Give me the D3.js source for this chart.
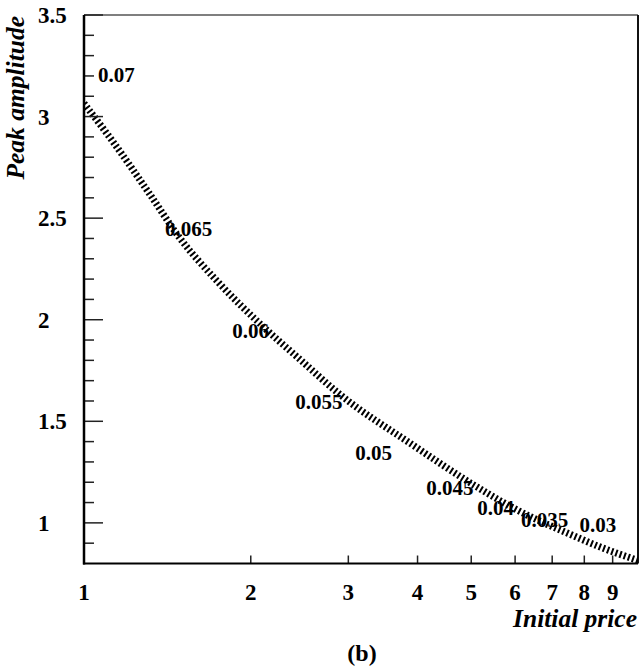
<!DOCTYPE html>
<html>
<head>
<meta charset="utf-8">
<script src="https://cdn.jsdelivr.net/npm/d3@7"></script>
<style>
  html, body { margin: 0; padding: 0; background: #fff; }
  svg { display: block; }
  text { font-family: "Liberation Serif", "DejaVu Serif", serif; font-weight: bold; fill: #000; }
</style>
</head>
<body>
<svg id="chart" width="639" height="671"></svg>
<script>
// Peak amplitude as a function of the initial price
const initialPrice = [1.0, 1.128, 1.316, 1.491, 1.739, 2.105, 2.455, 2.90, 3.879, 5.127, 6.053, 7.452, 8.549, 10.0];
const peakAmplitude = [3.065, 2.876, 2.616, 2.40, 2.19, 1.966, 1.804, 1.631, 1.392, 1.176, 1.063, 0.95, 0.881, 0.815];

// Parameter labels placed beside the curve (price, amplitude of the baseline start)
const paramText = ["0.07", "0.065", "0.06", "0.055", "0.05", "0.045", "0.04", "0.035", "0.03"];
const paramPrice = [1.060, 1.400, 1.851, 2.405, 3.088, 4.149, 5.126, 6.15, 7.843];
const paramAmp = [3.172, 2.414, 1.912, 1.5625, 1.3115, 1.139, 1.041, 0.982, 0.957];

// Axis ticks
const xTickValues = [1, 2, 3, 4, 5, 6, 7, 8, 9];
const yMajorTicks = [1, 1.5, 2, 2.5, 3, 3.5];
const yMinorTicks = [0.9, 1.1, 1.2, 1.3, 1.4, 1.6, 1.7, 1.8, 1.9, 2.1, 2.2, 2.3, 2.4, 2.6, 2.7, 2.8, 2.9, 3.1, 3.2, 3.3, 3.4];

const xTitle = "Initial price";
const yTitle = "Peak amplitude";
const caption = "(b)";

const plotLeft = 84, plotTop = 15, plotRight = 638, plotBottom = 563.5;

const svg = d3.select("#chart");

const x = d3.scaleLog().domain([1, 10]).range([plotLeft, plotRight]);
const y = d3.scaleLinear().domain([0.8, 3.5]).range([plotBottom, plotTop]);

const defs = svg.append("defs");
defs.append("clipPath").attr("id", "plotClip")
  .append("rect").attr("x", plotLeft).attr("y", plotTop)
  .attr("width", plotRight - plotLeft).attr("height", plotBottom - plotTop);

// Frame: top and right edges
svg.append("line").attr("x1", plotLeft).attr("x2", plotRight).attr("y1", plotTop).attr("y2", plotTop)
  .attr("stroke", "#555").attr("stroke-width", 1.6);
svg.append("line").attr("x1", plotRight).attr("x2", plotRight).attr("y1", plotTop).attr("y2", plotBottom)
  .attr("stroke", "#111").attr("stroke-width", 2);

// Curve: wide dashed stroke gives a hatched band
const pts = initialPrice.map((p, i) => [p, peakAmplitude[i]]);
const line = d3.line().x(d => x(d[0])).y(d => y(d[1])).curve(d3.curveMonotoneX);
svg.append("path")
  .attr("clip-path", "url(#plotClip)")
  .attr("d", line(pts))
  .attr("fill", "none")
  .attr("stroke", "#000")
  .attr("stroke-width", 7)
  .attr("stroke-dasharray", "2 2.4");

// Y axis ticks
const gy = svg.append("g");
gy.selectAll("line.major").data(yMajorTicks).join("line")
  .attr("class", "major")
  .attr("x1", plotLeft).attr("x2", plotLeft + 19)
  .attr("y1", d => y(d)).attr("y2", d => y(d))
  .attr("stroke", "#222").attr("stroke-width", 1.5);
gy.selectAll("line.minor").data(yMinorTicks).join("line")
  .attr("class", "minor")
  .attr("x1", plotLeft).attr("x2", plotLeft + 10)
  .attr("y1", d => y(d)).attr("y2", d => y(d))
  .attr("stroke", "#222").attr("stroke-width", 1.5);
gy.selectAll("text").data(yMajorTicks).join("text")
  .attr("x", 38).attr("y", d => y(d))
  .attr("dy", "0.35em")
  .attr("font-size", 23)
  .text(d => d3.format("")(d));

// X axis ticks
const gx = svg.append("g");
gx.selectAll("line").data(xTickValues.slice(1)).join("line")
  .attr("x1", d => x(d)).attr("x2", d => x(d))
  .attr("y1", plotBottom).attr("y2", plotBottom - 8)
  .attr("stroke", "#222").attr("stroke-width", 1.5);
gx.selectAll("text").data(xTickValues).join("text")
  .attr("x", d => x(d)).attr("y", 600)
  .attr("text-anchor", "middle")
  .attr("font-size", 23)
  .text(d => d);

// Axis lines
svg.append("line").attr("x1", plotLeft).attr("x2", plotLeft).attr("y1", plotTop).attr("y2", plotBottom + 1)
  .attr("stroke", "#000").attr("stroke-width", 2.5);
svg.append("line").attr("x1", plotLeft - 1).attr("x2", plotRight).attr("y1", plotBottom).attr("y2", plotBottom)
  .attr("stroke", "#000").attr("stroke-width", 2.2);

// Parameter labels
svg.selectAll("text.param").data(paramText).join("text")
  .attr("class", "param")
  .attr("x", (d, i) => x(paramPrice[i]))
  .attr("y", (d, i) => y(paramAmp[i]))
  .attr("font-size", 21)
  .text(d => d);

// Titles
svg.append("text")
  .attr("x", 637).attr("y", 627)
  .attr("text-anchor", "end")
  .attr("font-size", 25.5)
  .attr("font-style", "italic")
  .text(xTitle);

svg.append("text")
  .attr("transform", "translate(24,16) rotate(-90)")
  .attr("text-anchor", "end")
  .attr("font-size", 25.5)
  .attr("font-style", "italic")
  .text(yTitle);

svg.append("text")
  .attr("x", 362).attr("y", 661)
  .attr("text-anchor", "middle")
  .attr("font-size", 24)
  .text(caption);
</script>
</body>
</html>
